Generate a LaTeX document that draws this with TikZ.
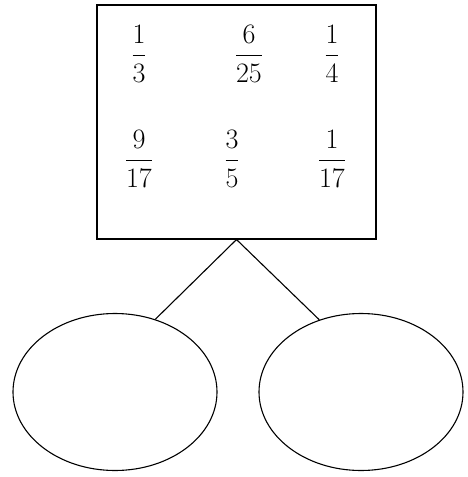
\documentclass[tikz,border=0pt]{standalone}
\usepackage{amsmath}
\usepackage{tikz}
\usetikzlibrary{
    positioning,
    shapes.geometric
}
\tikzset{
    fracnode/.style={
        inner sep=0pt,
        scale=1.13,
        font=\Huge
    },
    setoval/.style={
        draw,
        ellipse,
        line width=1.1pt,
        minimum width=204pt,
        minimum height=157pt,
        inner sep=0pt
    }
}

\begin{document}
\begin{tikzpicture}[x=1pt,y=-1pt]
%
    \useasboundingbox (0,0) rectangle (467,477);
%
    % Box of fractions
%
    \node[
        draw,
        line width=1.1pt,
        minimum width=279pt,
        minimum height=234pt,
        inner sep=0pt
    ]
    (frac-box) at (236.5,122) {};
%
    \node[fracnode] (frac-a) at (139,54) {$\dfrac{1}{3}$};
    \node[fracnode] (frac-b) at (249,54) {$\dfrac{6}{25}$};
    \node[fracnode] (frac-c) at (332,54) {$\dfrac{1}{4}$};
    \node[fracnode] (frac-d) at (139,159) {$\dfrac{9}{17}$};
    \node[fracnode] (frac-e) at (232,159) {$\dfrac{3}{5}$};
    \node[fracnode] (frac-f) at (332,159) {$\dfrac{1}{17}$};
%
    % Sorting ovals
%
    \node[setoval] (left-oval) at (115,392) {};
    \node[setoval] (right-oval) at (361,392) {};
%
    \draw[
        line width=1.1pt
    ]
    (left-oval.61)
    --
    (frac-box.south)
    --
    (right-oval.120);
%
\end{tikzpicture}
\end{document}
